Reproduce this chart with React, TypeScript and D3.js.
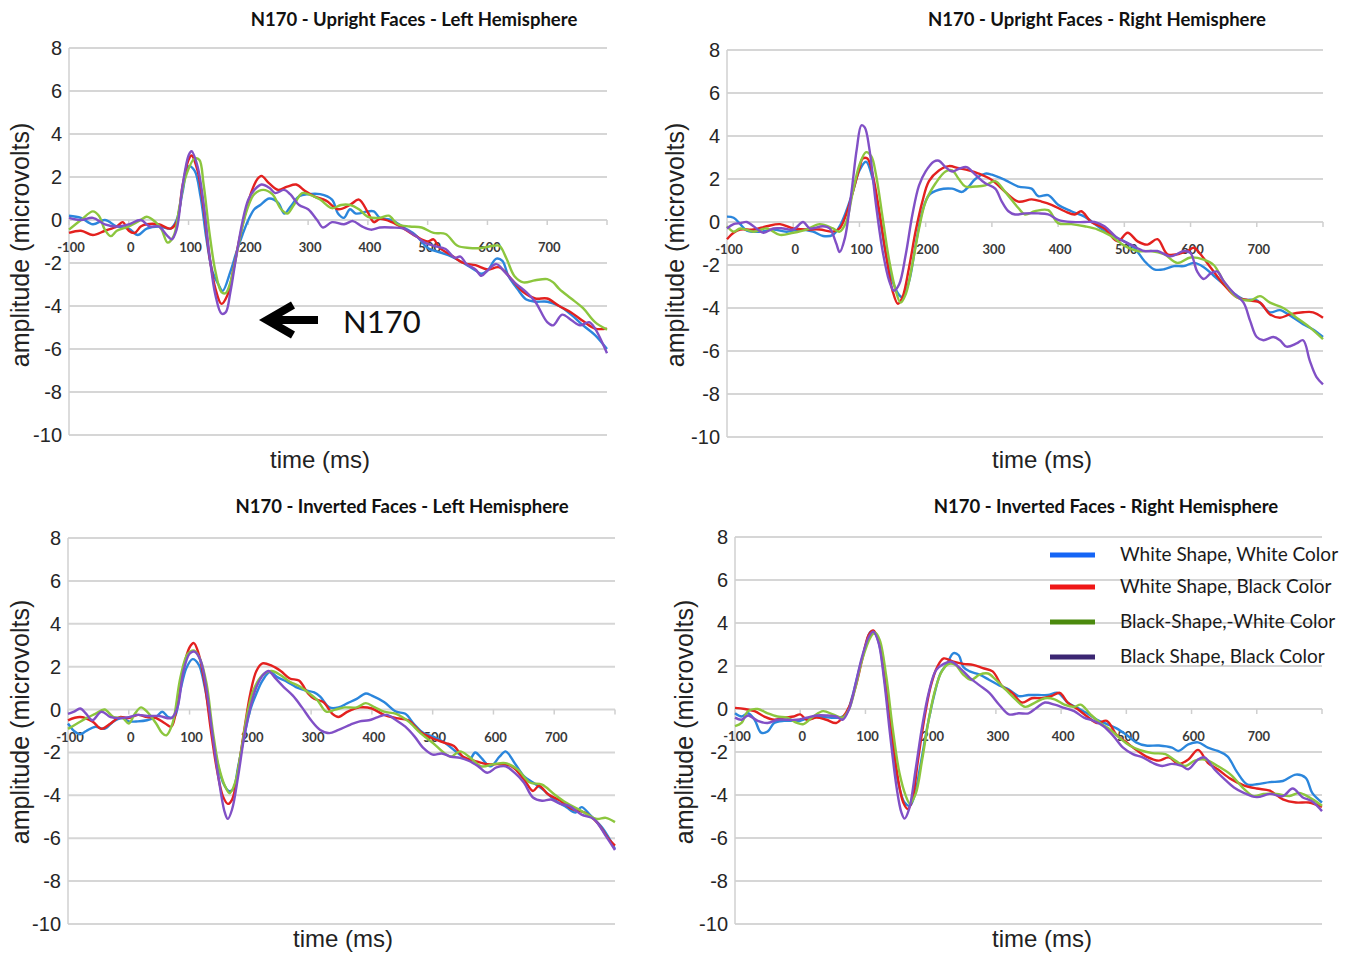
import React from 'react';
import * as d3 from 'd3';

type Pt = [number, number];

const seriesNames = [
  'White Shape, White Color',
  'White Shape, Black Color',
  'Black-Shape,-White Color',
  'Black Shape, Black Color',
];
const lineColors = ['#2b86dc', '#e3211f', '#8cc63e', '#8150c6'];
const legendColors = ['#1565f5', '#ef1717', '#4b8a0e', '#3b2672'];

const xTickValues = [-100, 0, 100, 200, 300, 400, 500, 600, 700];
const xTickMarks = [-100, 0, 100, 200, 300, 400, 500, 600, 700, 800];
const yTickValues = [8, 6, 4, 2, 0, -2, -4, -6, -8, -10];
const panelTitles = [
  'N170 - Upright Faces - Left Hemisphere',
  'N170 - Upright Faces - Right Hemisphere',
  'N170 - Inverted Faces - Left Hemisphere',
  'N170 - Inverted Faces - Right Hemisphere',
];

// ---------- Panel 1: Upright, Left ----------
const p1Blue: Pt[] = [[-100,0.2],[-80,0.1],[-60,-0.2],[-40,0],[-20,-0.3],[0,-0.4],[15,-0.7],[30,-0.4],[50,-0.3],[70,-0.4],[80,0],[90,1.3],[100,2.5],[110,2.3],[120,1.1],[130,-0.9],[140,-2.4],[150,-3.0],[157,-3.3],[170,-2.4],[180,-1.5],[190,-0.7],[200,0],[210,0.5],[220,0.7],[235,1.0],[250,0.8],[260,0.3],[270,0.6],[285,1.1],[300,1.2],[320,1.2],[340,0.95],[350,0.3],[360,0.1],[370,0.5],[380,0.3],[400,0.4],[410,0.4],[420,0.1],[440,0],[460,-0.35],[480,-0.7],[500,-1.3],[520,-1.5],[540,-1.7],[560,-2.0],[580,-2.35],[590,-2.5],[600,-2.35],[615,-1.8],[625,-1.9],[635,-2.6],[650,-3.2],[665,-3.7],[680,-3.8],[700,-3.8],[720,-4.0],[740,-4.4],[760,-4.9],[780,-5.35],[800,-6.0]];
const p1Red: Pt[] = [[-100,-0.6],[-80,-0.5],[-60,-0.7],[-40,-0.5],[-20,-0.3],[-10,-0.1],[0,-0.5],[10,-0.6],[20,-0.3],[30,-0.2],[50,-0.2],[70,-0.4],[80,-0.1],[90,1.6],[100,2.8],[105,3.0],[115,2.3],[125,0.6],[135,-1.7],[145,-3.2],[155,-3.9],[165,-3.5],[175,-2.3],[185,-0.9],[195,0.3],[205,1.3],[215,1.9],[222,2.05],[235,1.7],[250,1.4],[265,1.55],[280,1.65],[295,1.35],[310,1.1],[330,0.9],[350,0.5],[370,0.7],[385,0.95],[400,0.35],[410,-0.1],[420,0.05],[440,-0.1],[460,-0.4],[480,-0.75],[500,-1.0],[510,-0.9],[520,-1.3],[540,-1.65],[560,-2.0],[580,-2.1],[600,-2.3],[620,-2.2],[640,-2.75],[660,-3.35],[680,-3.65],[700,-3.65],[720,-4.0],[740,-4.3],[760,-4.7],[780,-5.05],[800,-5.05]];
const p1Green: Pt[] = [[-100,-0.45],[-80,0],[-60,0.4],[-50,0.2],[-40,-0.45],[-30,-0.75],[-20,-0.5],[0,-0.3],[20,0],[30,0.15],[45,-0.1],[55,-0.45],[65,-1.05],[75,-0.75],[85,0.65],[95,2.0],[110,2.85],[118,2.8],[125,1.7],[135,-0.6],[145,-2.4],[155,-3.35],[162,-3.4],[170,-2.9],[180,-1.65],[190,-0.3],[200,0.65],[210,1.2],[225,1.4],[240,1.2],[255,0.5],[265,0.3],[275,0.65],[290,1.25],[300,1.2],[320,0.95],[340,0.55],[355,0.7],[370,0.7],[385,0.5],[400,0.15],[420,0.1],[435,0.2],[450,-0.2],[470,-0.3],[490,-0.35],[510,-0.6],[530,-0.65],[550,-1.2],[570,-1.3],[590,-1.3],[610,-1.2],[620,-1.2],[632,-1.8],[645,-2.6],[660,-2.9],[680,-2.8],[700,-2.75],[710,-2.9],[720,-3.2],[740,-3.65],[760,-4.1],[780,-4.75],[800,-5.1]];
const p1Purple: Pt[] = [[-100,0.1],[-80,0],[-60,0.1],[-40,-0.2],[-20,-0.3],[0,-0.2],[20,0],[35,-0.3],[50,-0.3],[65,-0.75],[72,-0.9],[80,-0.45],[90,1.6],[100,3.0],[105,3.2],[115,2.5],[125,0.8],[135,-1.65],[145,-3.5],[155,-4.35],[162,-4.3],[170,-3.35],[180,-1.65],[190,-0.1],[200,0.95],[210,1.4],[222,1.65],[235,1.5],[245,1.25],[260,1.4],[270,1.2],[285,0.7],[300,0.5],[315,0],[325,-0.35],[340,-0.1],[360,-0.2],[375,-0.05],[390,-0.3],[405,-0.45],[420,-0.35],[440,-0.35],[460,-0.4],[480,-0.75],[495,-1.05],[510,-1.2],[530,-1.35],[545,-1.75],[555,-1.7],[565,-2.05],[580,-2.3],[590,-2.6],[600,-2.35],[615,-2.05],[630,-2.45],[645,-2.9],[665,-3.35],[680,-3.8],[700,-4.75],[710,-4.9],[725,-4.4],[740,-4.65],[755,-4.9],[770,-4.75],[780,-5.05],[800,-6.2]];

// ---------- Panel 2: Upright, Right ----------
const p2Blue: Pt[] = [[-100,0.25],[-90,0.2],[-80,-0.1],[-70,-0.4],[-50,-0.45],[-30,-0.35],[-10,-0.45],[10,-0.35],[30,-0.45],[45,-0.65],[60,-0.6],[70,-0.2],[80,0.5],[90,1.4],[100,2.4],[110,2.8],[120,2.0],[130,0.35],[140,-1.5],[150,-2.75],[160,-3.4],[165,-3.5],[175,-2.75],[185,-1.05],[195,0.5],[205,1.25],[220,1.5],[240,1.55],[255,1.4],[265,1.65],[275,2.0],[290,2.25],[300,2.2],[320,1.95],[340,1.65],[360,1.55],[370,1.2],[385,1.25],[400,0.8],[420,0.5],[440,0.25],[460,-0.2],[480,-0.6],[500,-0.9],[515,-1.2],[530,-1.8],[545,-2.2],[560,-2.2],[575,-2.05],[590,-2.05],[605,-1.9],[620,-2.1],[635,-2.5],[650,-2.9],[665,-3.3],[680,-3.6],[700,-3.65],[720,-4.2],[735,-4.1],[750,-4.35],[770,-4.75],[785,-5.0],[800,-5.35]];
const p2Red: Pt[] = [[-100,-0.8],[-90,-0.5],[-80,-0.35],[-60,-0.35],[-40,-0.2],[-20,-0.1],[0,-0.3],[20,-0.35],[40,-0.35],[60,-0.45],[70,-0.3],[80,0.35],[90,1.4],[100,2.5],[105,2.95],[112,2.95],[120,2.2],[130,0.5],[140,-1.5],[150,-3.2],[158,-3.8],[165,-3.5],[175,-2.1],[185,-0.4],[195,0.95],[205,1.9],[220,2.4],[235,2.6],[250,2.5],[265,2.4],[280,2.25],[300,1.95],[320,1.4],[340,0.95],[360,1.05],[375,0.95],[390,0.8],[410,0.5],[425,0.35],[435,0.5],[450,0],[470,-0.3],[490,-0.9],[505,-0.5],[520,-0.9],[535,-1.05],[550,-0.8],[565,-1.5],[580,-1.5],[595,-1.35],[605,-1.2],[615,-1.5],[630,-2.1],[650,-2.9],[670,-3.5],[690,-3.65],[705,-3.75],[720,-4.3],[735,-4.45],[750,-4.3],[770,-4.2],[785,-4.2],[800,-4.45]];
const p2Green: Pt[] = [[-100,-0.2],[-90,-0.45],[-80,-0.3],[-60,-0.45],[-40,-0.3],[-20,-0.6],[0,-0.5],[20,-0.35],[40,-0.1],[60,-0.3],[70,-0.45],[80,0],[90,1.4],[100,2.65],[110,3.25],[118,3.05],[125,2.2],[135,0.2],[145,-1.8],[155,-3.2],[162,-3.75],[170,-3.35],[180,-1.95],[190,-0.3],[200,0.95],[215,1.8],[230,2.35],[240,2.4],[250,2.0],[260,1.65],[275,1.65],[290,1.7],[305,1.9],[320,1.4],[340,0.65],[350,0.35],[365,0.5],[385,0.55],[400,-0.05],[420,-0.1],[440,-0.2],[460,-0.35],[480,-0.65],[500,-1.1],[520,-1.35],[540,-1.35],[560,-1.5],[580,-1.9],[600,-1.65],[620,-1.75],[635,-2.0],[650,-2.75],[670,-3.5],[690,-3.65],[705,-3.45],[720,-3.75],[740,-4.0],[760,-4.45],[780,-4.9],[800,-5.45]];
const p2Purple: Pt[] = [[-100,-0.3],[-90,-0.1],[-80,-0.05],[-70,0],[-60,-0.2],[-45,-0.5],[-30,-0.3],[-15,-0.3],[0,-0.35],[15,0],[25,-0.3],[45,-0.2],[55,-0.3],[65,-1.0],[70,-1.4],[78,-0.75],[88,1.4],[96,3.4],[103,4.5],[108,4.4],[115,3.4],[125,0.8],[135,-1.35],[145,-2.75],[152,-3.2],[160,-2.9],[170,-1.5],[180,0.35],[190,1.7],[200,2.35],[212,2.8],[220,2.85],[230,2.55],[240,2.35],[252,2.5],[262,2.55],[275,2.2],[290,1.8],[305,1.55],[315,0.95],[325,0.5],[335,0.35],[350,0.4],[370,0.4],[385,0.35],[400,0.1],[420,0],[440,0],[455,0],[470,-0.2],[490,-0.75],[510,-1.05],[530,-1.35],[550,-1.35],[570,-1.6],[590,-1.35],[600,-1.45],[610,-2.3],[620,-2.65],[630,-2.4],[640,-2.3],[650,-2.75],[665,-3.3],[680,-3.75],[690,-4.6],[700,-5.35],[710,-5.5],[725,-5.35],[735,-5.5],[745,-5.8],[760,-5.65],[770,-5.5],[780,-6.45],[790,-7.2],[800,-7.55]];

// ---------- Panel 3: Inverted, Left ----------
const p3Blue: Pt[] = [[-100,-0.65],[-90,-1.0],[-80,-1.15],[-70,-1.0],[-55,-0.8],[-40,-0.9],[-25,-0.55],[-10,-0.4],[0,-0.55],[15,-0.55],[30,-0.5],[45,-0.35],[55,-0.1],[65,-0.35],[75,-0.35],[85,0.9],[95,1.95],[105,2.35],[115,2.1],[125,1.05],[135,-0.65],[145,-2.35],[155,-3.4],[165,-3.8],[172,-3.7],[180,-2.65],[190,-1.25],[200,0],[210,0.75],[220,1.35],[232,1.75],[245,1.5],[260,1.3],[275,1.05],[290,0.9],[305,0.8],[315,0.6],[330,0.1],[345,0.1],[360,0.3],[375,0.5],[390,0.75],[400,0.65],[420,0.35],[440,-0.1],[455,-0.2],[470,-0.7],[485,-1.1],[500,-1.25],[520,-1.55],[540,-2.0],[560,-2.35],[570,-2.0],[580,-2.25],[595,-2.65],[610,-2.2],[620,-1.95],[635,-2.5],[650,-3.1],[665,-3.4],[680,-3.7],[700,-4.2],[720,-4.55],[735,-4.8],[745,-4.55],[760,-4.95],[780,-5.55],[800,-6.5]];
const p3Red: Pt[] = [[-100,-0.5],[-80,-0.35],[-60,-0.55],[-45,-0.9],[-30,-0.65],[-15,-0.35],[0,-0.4],[15,-0.25],[30,-0.35],[45,-0.4],[60,-0.65],[70,-0.8],[80,0.3],[90,1.95],[100,2.9],[107,3.1],[115,2.6],[125,1.2],[135,-0.95],[145,-2.8],[155,-4.05],[163,-4.4],[170,-4.2],[180,-2.8],[190,-0.95],[200,0.75],[210,1.8],[220,2.15],[235,2.05],[250,1.8],[265,1.45],[280,1.35],[295,0.75],[305,0.5],[320,0.35],[335,-0.2],[345,-0.35],[360,-0.1],[380,0.1],[400,0.05],[420,-0.25],[440,-0.4],[460,-0.5],[480,-1.05],[500,-1.35],[520,-1.55],[535,-1.7],[550,-2.2],[570,-2.4],[590,-2.55],[610,-2.55],[630,-2.65],[650,-3.25],[665,-3.8],[675,-3.55],[690,-3.95],[710,-4.25],[730,-4.65],[750,-4.8],[770,-5.25],[790,-6.05],[800,-6.35]];
const p3Green: Pt[] = [[-100,-0.9],[-85,-0.65],[-70,-0.4],[-55,-0.2],[-40,0],[-25,-0.35],[-10,-0.4],[0,-0.65],[10,-0.2],[20,0.1],[30,-0.1],[45,-0.65],[55,-1.1],[62,-1.2],[72,-0.65],[85,1.5],[97,2.6],[108,2.75],[118,2.3],[128,1.2],[138,-0.95],[148,-2.65],[158,-3.55],[166,-3.9],[175,-3.4],[185,-1.9],[195,-0.2],[205,0.9],[220,1.6],[235,1.8],[250,1.6],[265,1.3],[280,1.1],[295,0.8],[310,0.45],[325,-0.1],[340,0],[355,0.1],[375,0.1],[390,0.3],[405,0.1],[420,-0.1],[440,-0.2],[460,-0.55],[480,-1.1],[500,-1.55],[520,-2.05],[530,-2.2],[545,-1.95],[560,-2.2],[580,-2.65],[600,-2.55],[620,-2.5],[640,-2.8],[660,-3.4],[680,-3.5],[700,-3.95],[720,-4.35],[740,-4.65],[755,-4.9],[770,-5.1],[785,-5.05],[800,-5.25]];
const p3Purple: Pt[] = [[-100,-0.2],[-90,-0.1],[-80,0.05],[-70,-0.2],[-60,-0.5],[-45,-0.1],[-30,-0.35],[-15,-0.4],[0,-0.35],[15,-0.25],[30,-0.3],[50,-0.3],[70,-0.4],[80,0.1],[90,1.8],[100,2.6],[108,2.7],[118,2.3],[128,0.9],[138,-1.25],[148,-3.25],[158,-4.8],[163,-5.1],[170,-4.65],[180,-3.1],[190,-1.25],[200,0.1],[210,1.05],[222,1.65],[230,1.8],[240,1.5],[255,1.05],[270,0.65],[285,0.1],[300,-0.5],[315,-0.95],[330,-1.1],[345,-0.95],[365,-0.7],[380,-0.55],[395,-0.5],[410,-0.35],[425,-0.25],[440,-0.5],[455,-0.8],[470,-1.25],[485,-1.8],[500,-2.1],[515,-2.05],[530,-2.2],[545,-2.25],[560,-2.4],[575,-2.65],[590,-2.95],[605,-2.7],[620,-2.65],[635,-2.95],[650,-3.4],[665,-4.1],[680,-4.25],[695,-4.2],[710,-4.4],[725,-4.5],[745,-4.9],[765,-5.1],[785,-5.9],[800,-6.55]];

// ---------- Panel 4: Inverted, Right ----------
const p4Blue: Pt[] = [[-100,-0.2],[-90,-0.35],[-80,-0.2],[-70,-0.5],[-60,-1.1],[-50,-1.05],[-40,-0.65],[-25,-0.55],[-10,-0.55],[0,-0.55],[15,-0.4],[30,-0.35],[45,-0.4],[60,-0.4],[70,-0.25],[80,0.6],[90,1.8],[100,2.9],[108,3.6],[115,3.5],[122,2.9],[130,1.2],[140,-1.25],[150,-3.4],[160,-4.35],[168,-4.5],[175,-4.05],[185,-2.5],[195,-0.8],[205,0.6],[215,1.65],[225,2.1],[235,2.6],[243,2.5],[250,1.95],[260,1.75],[275,1.6],[290,1.35],[305,1.1],[320,0.9],[335,0.6],[350,0.65],[365,0.65],[380,0.65],[395,0.75],[410,0.3],[425,0.05],[440,-0.2],[455,-0.5],[470,-0.7],[485,-0.9],[500,-1.2],[515,-1.55],[530,-1.7],[550,-1.7],[570,-1.8],[580,-1.95],[595,-1.65],[610,-1.55],[625,-1.8],[640,-1.95],[655,-2.2],[670,-2.95],[685,-3.5],[700,-3.5],[720,-3.4],[740,-3.35],[760,-3.05],[775,-3.2],[785,-3.9],[800,-4.35]];
const p4Red: Pt[] = [[-100,0.05],[-85,0],[-70,-0.1],[-55,-0.35],[-40,-0.5],[-25,-0.4],[-10,-0.35],[0,-0.25],[10,-0.5],[25,-0.4],[40,-0.5],[55,-0.65],[65,-0.4],[75,0.1],[85,1.05],[95,2.3],[105,3.45],[112,3.65],[120,3.2],[130,1.5],[140,-0.95],[150,-3.25],[158,-4.35],[165,-4.65],[172,-4.2],[180,-2.5],[190,-0.5],[200,1.05],[210,1.95],[220,2.35],[235,2.2],[250,2.1],[265,2.05],[280,1.9],[295,1.75],[310,1.05],[325,0.75],[340,0.3],[355,0.5],[370,0.5],[385,0.6],[398,0.75],[410,0.3],[425,0],[440,-0.35],[455,-0.65],[470,-0.55],[485,-1.2],[500,-1.55],[515,-1.9],[530,-2.2],[550,-2.4],[565,-2.25],[580,-2.55],[595,-2.35],[610,-1.9],[625,-2.5],[640,-2.8],[660,-3.25],[680,-3.55],[700,-3.7],[720,-3.8],[740,-4.2],[760,-4.35],[780,-4.35],[800,-4.55]];
const p4Green: Pt[] = [[-100,-0.8],[-90,-0.65],[-80,-0.1],[-65,0],[-50,-0.2],[-35,-0.35],[-20,-0.4],[-5,-0.65],[5,-0.7],[20,-0.35],[35,-0.1],[50,-0.25],[65,-0.4],[75,0],[85,1.05],[95,2.3],[108,3.35],[115,3.55],[122,3.2],[132,1.5],[142,-0.95],[152,-2.95],[162,-4.05],[168,-4.4],[177,-3.95],[187,-2.35],[197,-0.5],[207,0.9],[217,1.75],[228,2.1],[238,2.05],[250,1.6],[262,1.35],[275,1.6],[288,1.65],[300,1.35],[315,0.9],[330,0.45],[345,0.1],[360,0.3],[375,0.5],[390,0.45],[405,0.2],[420,0.1],[430,0.2],[445,-0.25],[460,-0.65],[475,-0.95],[490,-1.35],[505,-1.7],[520,-1.9],[540,-2.05],[560,-2.1],[575,-2.4],[590,-2.65],[605,-2.4],[620,-2.35],[640,-2.65],[660,-3.05],[680,-3.7],[695,-4.05],[710,-3.95],[730,-3.95],[750,-4.05],[765,-3.9],[780,-4.1],[800,-4.5]];
const p4Purple: Pt[] = [[-100,-0.4],[-90,-0.5],[-80,-0.3],[-65,-0.55],[-50,-0.65],[-35,-0.5],[-20,-0.5],[-5,-0.5],[10,-0.4],[25,-0.3],[40,-0.3],[55,-0.35],[65,-0.5],[75,0],[85,1.2],[95,2.45],[105,3.35],[112,3.6],[120,3.1],[128,1.5],[138,-1.25],[148,-3.7],[155,-4.8],[160,-5.1],[167,-4.65],[177,-2.8],[187,-0.8],[197,0.75],[208,1.8],[220,2.1],[232,2.2],[245,1.9],[260,1.45],[275,1.1],[290,0.75],[305,0.2],[320,-0.25],[335,-0.2],[350,-0.2],[362,0.05],[375,0.3],[390,0.2],[405,0.05],[420,-0.1],[435,-0.4],[450,-0.55],[465,-0.8],[480,-1.25],[495,-1.8],[510,-2.1],[525,-2.25],[540,-2.5],[555,-2.65],[570,-2.55],[585,-2.65],[595,-2.8],[610,-2.35],[620,-2.25],[635,-2.8],[650,-3.25],[665,-3.65],[680,-3.9],[700,-4.1],[720,-3.95],[740,-4.05],[755,-3.7],[770,-4.1],[785,-4.3],[800,-4.75]];

const panelSeries: Pt[][][] = [
  [p1Blue, p1Red, p1Green, p1Purple],
  [p2Blue, p2Red, p2Green, p2Purple],
  [p3Blue, p3Red, p3Green, p3Purple],
  [p4Blue, p4Red, p4Green, p4Purple],
];

interface Layout {
  x0: number; x1: number; yTop: number; yBot: number;
  titleX: number; titleY: number;
  ampX: number; ampY: number;
  timeX: number; timeY: number;
}

const layouts: Layout[] = [
  { x0: 69, x1: 607, yTop: 48, yBot: 435, titleX: 414, titleY: 26, ampX: 29, ampY: 245, timeX: 320, timeY: 468 },
  { x0: 727, x1: 1323, yTop: 50, yBot: 437, titleX: 1097, titleY: 26, ampX: 684, ampY: 245, timeX: 1042, timeY: 468 },
  { x0: 68, x1: 615, yTop: 538, yBot: 924, titleX: 402, titleY: 513, ampX: 29, ampY: 722, timeX: 343, timeY: 947 },
  { x0: 735, x1: 1322, yTop: 537, yBot: 924, titleX: 1106, titleY: 513, ampX: 693, ampY: 722, timeX: 1042, timeY: 947 },
];

const AXIS_FONT = "'Liberation Sans', Arial, sans-serif";
const CAL_FONT = "Lato, 'Open Sans', sans-serif";

function Panel({ idx }: { idx: number }) {
  const L = layouts[idx];
  const x = d3.scaleLinear().domain([-100, 800]).range([L.x0, L.x1]);
  const y = d3.scaleLinear().domain([-10, 8]).range([L.yBot, L.yTop]);
  const line = d3
    .line<Pt>()
    .x((d) => x(d[0]))
    .y((d) => y(d[1]))
    .curve(d3.curveCatmullRom.alpha(0.5));
  const zeroY = y(0);
  return (
    <g>
      <text x={L.titleX} y={L.titleY} textAnchor="middle" fontFamily={CAL_FONT} fontWeight={700} fontSize={18.5} fill="#111">
        {panelTitles[idx]}
      </text>
      {yTickValues.map((v) => (
        <g key={v}>
          <line x1={L.x0} x2={L.x1} y1={y(v)} y2={y(v)} stroke="#d6d6d6" strokeWidth={2} />
          <text x={L.x0 - 7} y={y(v) + 7} textAnchor="end" fontFamily={AXIS_FONT} fontSize={20} fill="#262626">
            {v}
          </text>
        </g>
      ))}
      <line x1={L.x0} x2={L.x0} y1={L.yTop} y2={L.yBot} stroke="#d0d0d0" strokeWidth={1.5} />
      {xTickMarks.map((t) => (
        <line key={t} x1={x(t)} x2={x(t)} y1={zeroY} y2={zeroY + 5} stroke="#cfcfcf" strokeWidth={1.5} />
      ))}
      {xTickValues.map((t) => (
        <text key={t} x={x(t) + 2} y={zeroY + 32} textAnchor="middle" fontFamily={CAL_FONT} fontWeight={700} fontSize={13} fill="#3a3a3a">
          {t}
        </text>
      ))}
      {panelSeries[idx].map((s, i) => (
        <path key={i} d={line(s) || ''} fill="none" stroke={lineColors[i]} strokeWidth={2.4} strokeLinejoin="round" />
      ))}
      <text
        transform={`translate(${L.ampX},${L.ampY}) rotate(-90)`}
        textAnchor="middle"
        fontFamily={AXIS_FONT}
        fontSize={25}
        fill="#222"
      >
        amplitude (microvolts)
      </text>
      <text x={L.timeX} y={L.timeY} textAnchor="middle" fontFamily={AXIS_FONT} fontSize={24} fill="#222">
        time (ms)
      </text>
    </g>
  );
}

function Legend() {
  const ys = [555, 587, 622, 657];
  return (
    <g>
      {seriesNames.map((name, i) => (
        <g key={name}>
          <line x1={1050} x2={1095} y1={ys[i]} y2={ys[i]} stroke={legendColors[i]} strokeWidth={5} />
          <text x={1120} y={ys[i] + 6} fontFamily={CAL_FONT} fontSize={19} fill="#1a1a1a">
            {name}
          </text>
        </g>
      ))}
    </g>
  );
}

function Annotation() {
  return (
    <g>
      <line x1={272} x2={318} y1={320} y2={320} stroke="#000" strokeWidth={8} />
      <polyline points="293,305 267,320 293,335" fill="none" stroke="#000" strokeWidth={8} strokeLinejoin="miter" />
      <text x={343} y={333} fontFamily={CAL_FONT} fontSize={31} fill="#111">
        N170
      </text>
    </g>
  );
}

export default function App() {
  return (
    <svg
      width={1358}
      height={954}
      style={{ position: 'absolute', top: 0, left: 0, display: 'block', background: '#fff' }}
    >
      <rect x={0} y={0} width={1358} height={954} fill="#fff" />
      {layouts.map((_, i) => (
        <Panel key={i} idx={i} />
      ))}
      <Annotation />
      <Legend />
    </svg>
  );
}
